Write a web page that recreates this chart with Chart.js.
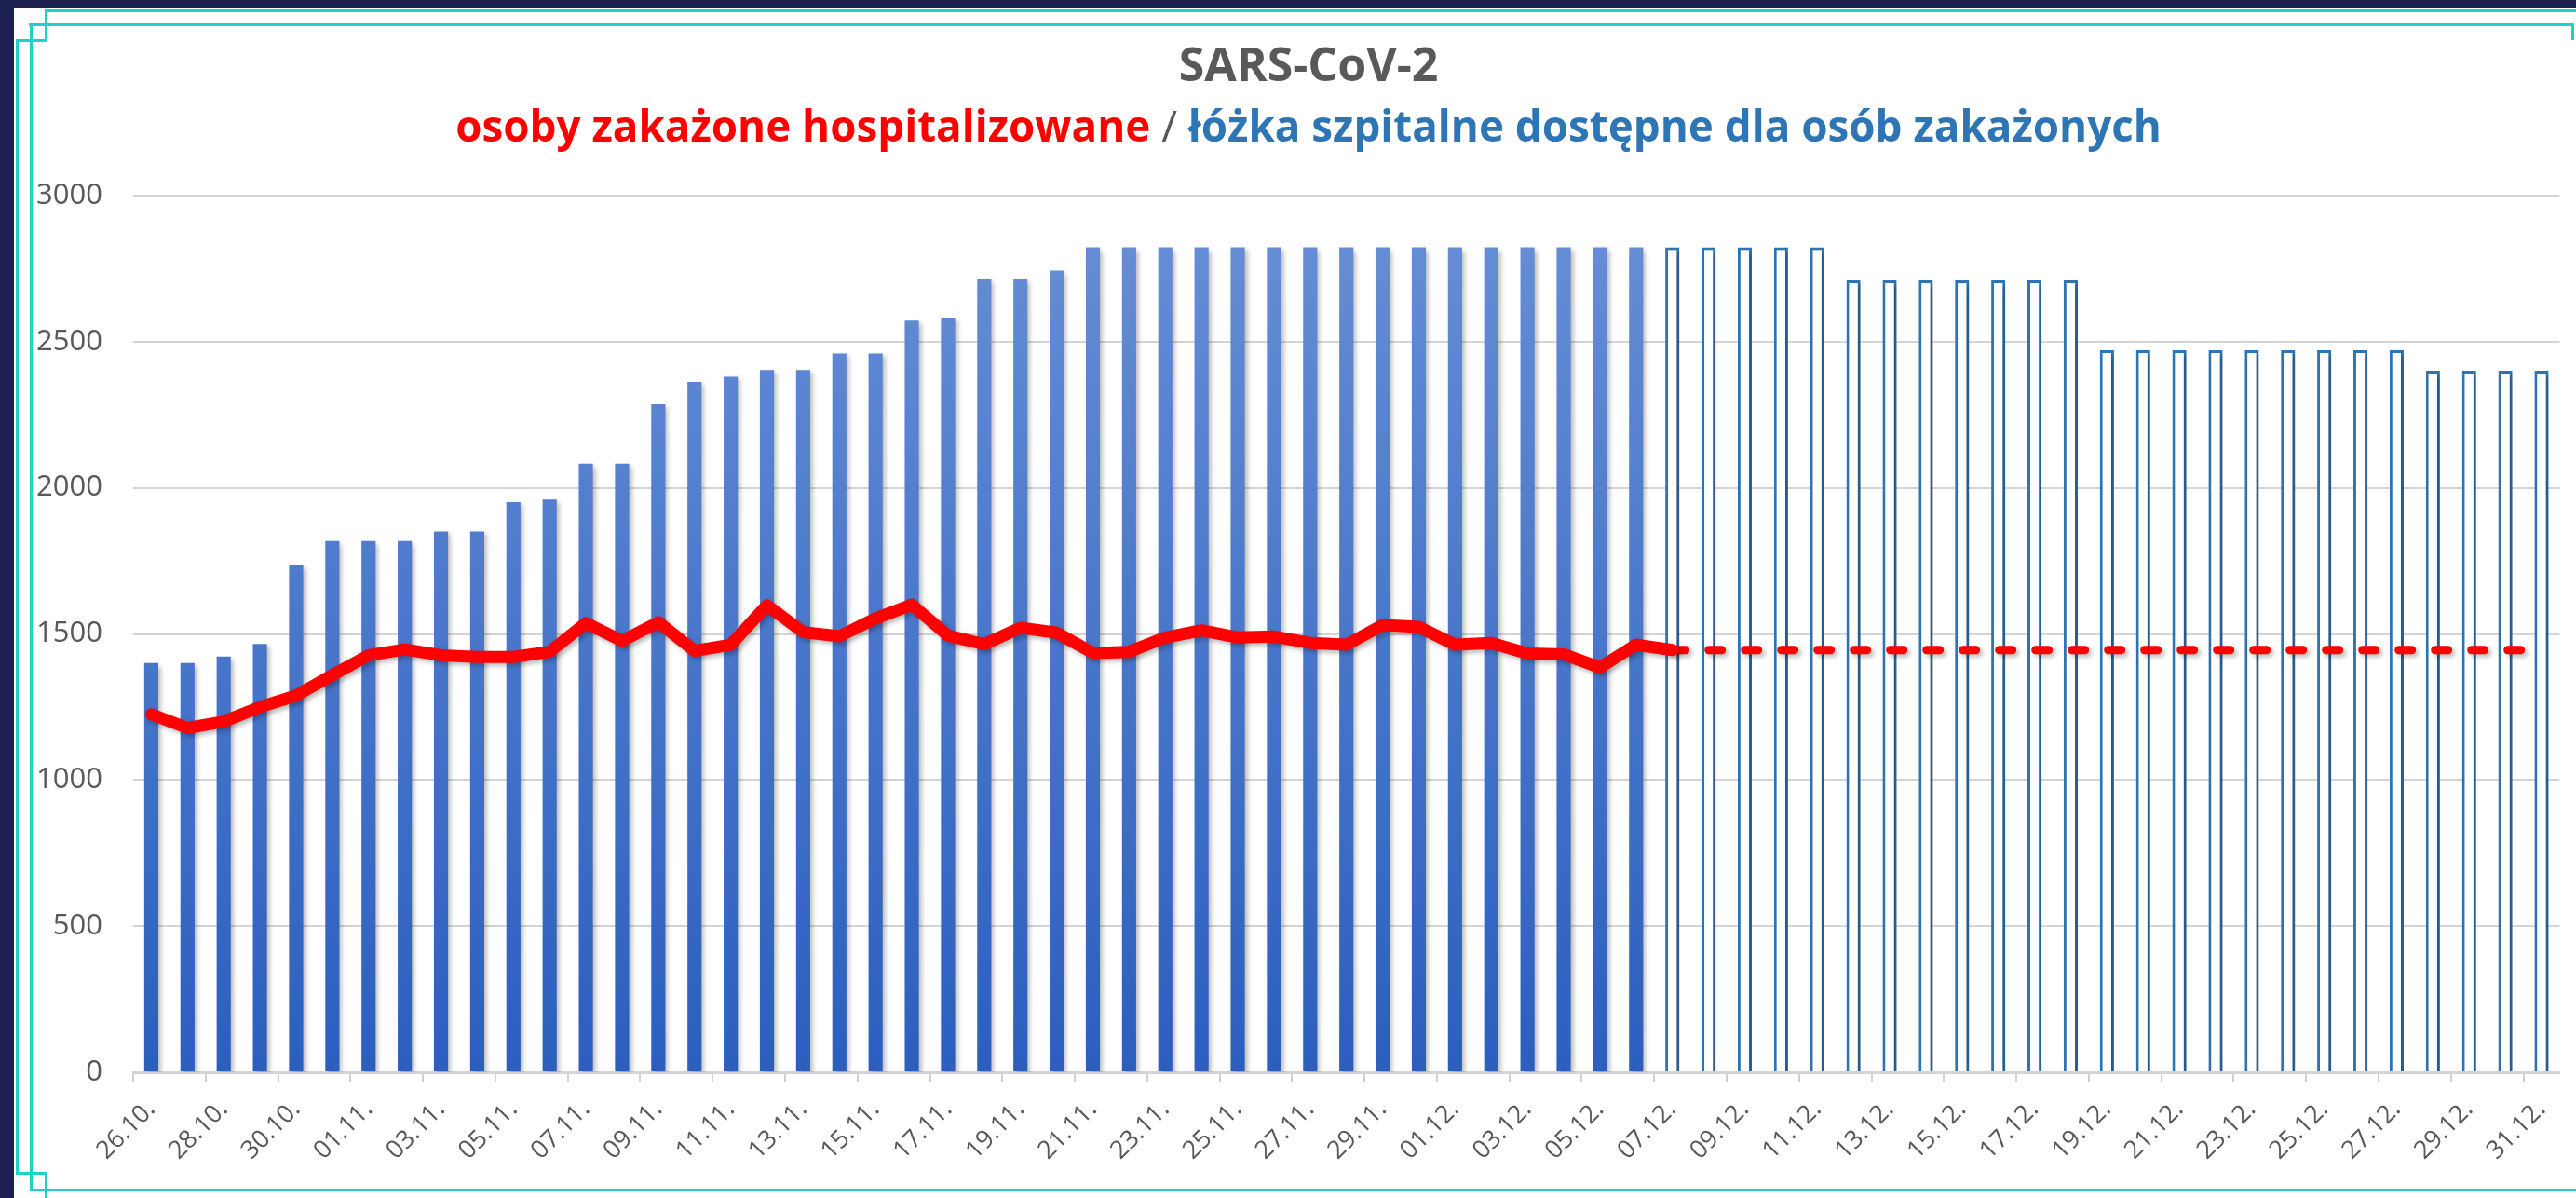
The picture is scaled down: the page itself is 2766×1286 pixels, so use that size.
<!DOCTYPE html>
<html>
<head>
<meta charset="utf-8">
<script src="https://cdn.jsdelivr.net/npm/chart.js@4.4.0/dist/chart.umd.min.js"></script>
<style>
html,body{margin:0;padding:0;background:#1d2150;width:2766px;height:1286px;overflow:hidden;}
#panel{position:absolute;left:15px;top:9px;width:2751px;height:1277px;background:#ffffff;}
#wrap{position:absolute;left:0;top:0;width:2766px;height:1286px;}
.c{position:absolute;background:#1ed3c6;}
</style>
</head>
<body>
<div id="panel"></div>
<div id="wrap"><canvas id="chart" width="2766" height="1286"></canvas></div>
<div class="c" style="left:49px;top:10px;width:2717px;height:3px"></div>
<div class="c" style="left:31px;top:25px;width:2733px;height:3px"></div>
<div class="c" style="left:2761px;top:25px;width:3px;height:18px"></div>
<div class="c" style="left:32px;top:25px;width:3px;height:1254px"></div>
<div class="c" style="left:17px;top:42px;width:3px;height:1219px"></div>
<div class="c" style="left:17px;top:42px;width:33px;height:3px"></div>
<div class="c" style="left:48px;top:10px;width:3px;height:35px"></div>
<div class="c" style="left:32px;top:1276px;width:2734px;height:3px"></div>
<div class="c" style="left:17px;top:1258px;width:33px;height:3px"></div>
<div class="c" style="left:48px;top:1258px;width:3px;height:28px"></div>
<script>
// ---------- DATA ----------
const titleText = 'SARS-CoV-2';
const subtitleRed = 'osoby zakażone hospitalizowane';
const subtitleSep = ' / ';
const subtitleBlue = 'łóżka szpitalne dostępne dla osób zakażonych';

const categories = [
  '26.10.','27.10.','28.10.','29.10.','30.10.','31.10.',
  '01.11.','02.11.','03.11.','04.11.','05.11.','06.11.','07.11.','08.11.','09.11.','10.11.',
  '11.11.','12.11.','13.11.','14.11.','15.11.','16.11.','17.11.','18.11.','19.11.','20.11.',
  '21.11.','22.11.','23.11.','24.11.','25.11.','26.11.','27.11.','28.11.','29.11.','30.11.',
  '01.12.','02.12.','03.12.','04.12.','05.12.','06.12.','07.12.','08.12.','09.12.','10.12.',
  '11.12.','12.12.','13.12.','14.12.','15.12.','16.12.','17.12.','18.12.','19.12.','20.12.',
  '21.12.','22.12.','23.12.','24.12.','25.12.','26.12.','27.12.','28.12.','29.12.','30.12.','31.12.'
];

// beds available (actual) 26.10 - 06.12
const bedsActual = [
  1400,1400,1423,1466,1735,1818,1818,1818,1851,1851,
  1951,1960,2083,2083,2286,2362,2380,2403,2403,2460,
  2460,2572,2582,2713,2713,2743,2823,2823,2823,2823,
  2823,2823,2823,2823,2823,2823,2823,2823,2823,2823,
  2823,2823
];
// beds planned 07.12 - 31.12
const bedsPlanned = [
  2823,2823,2823,2823,2823,
  2710,2710,2710,2710,2710,2710,2710,
  2471,2471,2471,2471,2471,2471,2471,2471,2471,
  2401,2401,2401,2401
];
// hospitalized infected persons 26.10 - 07.12
const hospitalized = [
  1225,1178,1200,1250,1289,1359,1427,1447,1427,1421,
  1421,1439,1537,1476,1540,1442,1463,1598,1506,1492,
  1553,1600,1494,1465,1521,1504,1435,1439,1488,1512,
  1488,1491,1469,1463,1530,1524,1463,1469,1433,1430,
  1385,1463,1445
];
// hospitalized forecast 07.12 - 31.12
const hospitalizedForecast = [
  1445,1445,1445,1445,1445,1445,1445,1445,1445,1445,
  1445,1445,1445,1445,1445,1445,1445,1445,1445,1445,
  1445,1445,1445,1445,1445
];
const yTicks = [0,500,1000,1500,2000,2500,3000];

// ---------- BUILD ----------
const nA = bedsActual.length;
const bedsActualData = categories.map((_, i) => i < nA ? bedsActual[i] : null);
const bedsPlannedData = categories.map((_, i) => i >= nA ? bedsPlanned[i - nA] : null);
const hospData = categories.map((_, i) => i < hospitalized.length ? hospitalized[i] : null);
const fcStart = categories.length - hospitalizedForecast.length;
const fcData = categories.map((_, i) => i >= fcStart ? hospitalizedForecast[i - fcStart] : null);

function barGradient(ctx) {
  const chart = ctx.chart;
  const area = chart.chartArea;
  if (!area) return '#4472c4';
  const g = chart.ctx.createLinearGradient(0, area.top, 0, area.bottom);
  g.addColorStop(0, '#6990d6');
  g.addColorStop(1, '#2b5ebf');
  return g;
}

const shadowPlugin = {
  id: 'shadows',
  beforeDatasetDraw(chart) {
    const c = chart.ctx;
    c.save();
    c.shadowColor = 'rgba(0,0,0,0.28)';
    c.shadowBlur = 5;
    c.shadowOffsetX = 3;
    c.shadowOffsetY = 3;
  },
  afterDatasetDraw(chart) {
    chart.ctx.restore();
  }
};

const titlePlugin = {
  id: 'titles',
  afterDraw(chart) {
    const c = chart.ctx;
    const cx = 1405;
    c.save();
    c.textBaseline = 'alphabetic';
    c.textAlign = 'center';
    c.fillStyle = '#595959';
    c.font = 'bold 50px "Open Sans"';
    c.fillText(titleText, cx, 87);

    const targetW = 1832;
    const parts = [
      {t: subtitleRed, col: '#ff0000', w: 'bold'},
      {t: subtitleSep, col: '#595959', w: 'normal'},
      {t: subtitleBlue, col: '#2e75b6', w: 'bold'}
    ];
    let base = 50, total = 0;
    parts.forEach(p => { c.font = p.w + ' ' + base + 'px "Open Sans"'; total += c.measureText(p.t).width; });
    const size = base * targetW / total;
    let w = 0;
    parts.forEach(p => { c.font = p.w + ' ' + size + 'px "Open Sans"'; p.width = c.measureText(p.t).width; w += p.width; });
    let x = cx - w / 2;
    c.textAlign = 'left';
    parts.forEach(p => {
      c.font = p.w + ' ' + size + 'px "Open Sans"';
      c.fillStyle = p.col;
      c.fillText(p.t, x, 152);
      x += p.width;
    });
    c.restore();
  }
};

new Chart(document.getElementById('chart'), {
  data: {
    labels: categories,
    datasets: [
      {
        type: 'line', label: subtitleRed, data: hospData,
        borderColor: '#ff0000', borderWidth: 13, pointRadius: 0, tension: 0,
        borderJoinStyle: 'round', borderCapStyle: 'round', order: 0
      },
      {
        type: 'line', label: subtitleRed + ' (prognoza)', data: fcData,
        borderColor: '#ff0000', borderWidth: 9, pointRadius: 0, tension: 0,
        borderDash: [14, 25], borderCapStyle: 'round', order: 0
      },
      {
        type: 'bar', label: subtitleBlue, data: bedsActualData,
        backgroundColor: barGradient, barPercentage: 0.39, categoryPercentage: 1,
        grouped: false, order: 2
      },
      {
        type: 'bar', label: subtitleBlue + ' (plan)', data: bedsPlannedData,
        backgroundColor: '#ffffff', borderColor: '#2e75b6', borderWidth: 3,
        barPercentage: 0.39, categoryPercentage: 1, grouped: false, order: 2
      }
    ]
  },
  options: {
    responsive: false,
    animation: false,
    devicePixelRatio: 1,
    layout: { padding: { top: 210, left: 36, right: 15, bottom: 0 } },
    plugins: { legend: { display: false }, tooltip: { enabled: false }, title: { display: false } },
    scales: {
      x: {
        afterFit: (scale) => { scale.height = 135; },
        grid: {
          offset: true, drawOnChartArea: false, tickLength: 10, lineWidth: 2,
          color: (c) => (c.index % 2 === 0 ? '#d0d0d0' : 'rgba(0,0,0,0)')
        },
        border: { color: '#d4d4d4', width: 3 },
        ticks: {
          autoSkip: false, minRotation: 45, maxRotation: 45, padding: 14,
          color: '#595959', font: { family: 'Open Sans', size: 27 },
          callback: function (v, i) { return i % 2 === 0 ? this.getLabelForValue(v) : ''; }
        }
      },
      y: {
        min: 0, max: 3000,
        afterFit: (scale) => { scale.width = 107; },
        afterBuildTicks: (scale) => { scale.ticks = yTicks.map(v => ({ value: v })); },
        grid: { color: '#d4d4d4', lineWidth: 2, drawTicks: false },
        border: { display: false },
        ticks: {
          padding: 33, color: '#595959', font: { family: 'Open Sans', size: 31 },
          callback: (v) => String(v)
        }
      }
    }
  },
  plugins: [shadowPlugin, titlePlugin]
});
</script>
</body>
</html>
